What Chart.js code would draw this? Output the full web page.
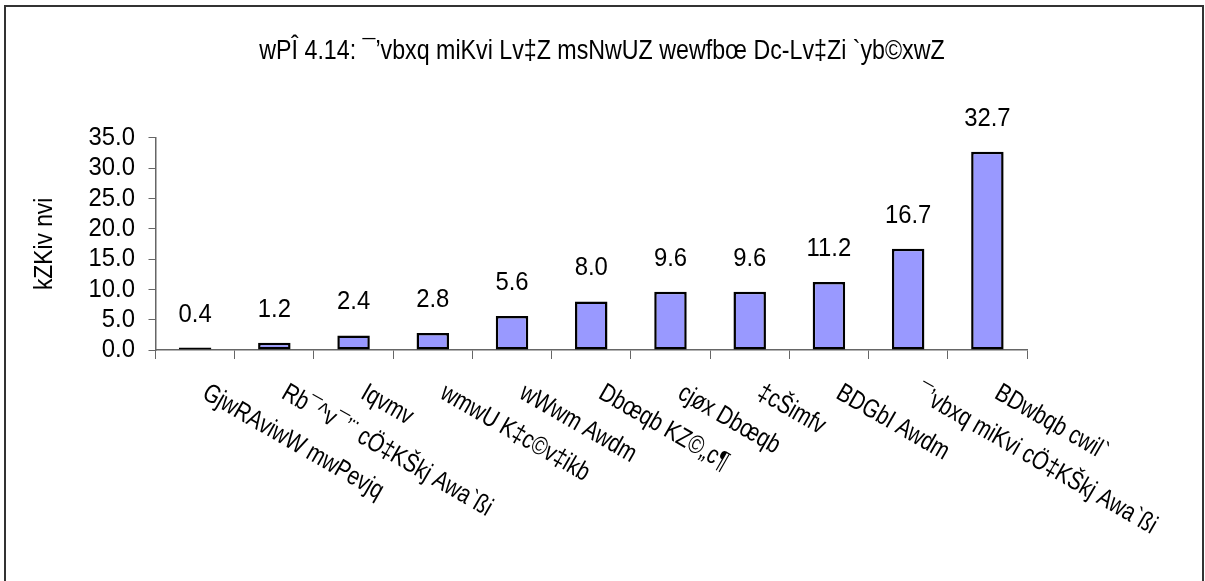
<!DOCTYPE html>
<html>
<head>
<meta charset="utf-8">
<script src="https://cdn.jsdelivr.net/npm/chart.js@4"></script>
<style>
  html, body { margin: 0; padding: 0; background: #fff; }
  #wrap { width: 1205px; height: 581px; position: relative; }
</style>
</head>
<body>
<div id="wrap"><canvas id="myChart"></canvas></div>
<script>
const chartTitle = "wPÎ 4.14: ¯’vbxq miKvi Lv‡Z msNwUZ wewfbœ Dc-Lv‡Zi `yb©xwZ";
const yTitle = "kZKiv nvi";
const categories = [
  "GjwRAviwW mwPevjq",
  "Rb¯^v¯’¨ cÖ‡KŠkj Awa`ßi",
  "Iqvmv",
  "wmwU K‡c©v‡ikb",
  "wWwm Awdm",
  "Dbœqb KZ©„c¶",
  "cjøx Dbœqb",
  "‡cŠimfv",
  "BDGbI Awdm",
  "¯’vbxq miKvi cÖ‡KŠkj Awa`ßi",
  "BDwbqb cwil`"
];
const percents = [0.4, 1.2, 2.4, 2.8, 5.6, 8.0, 9.6, 9.6, 11.2, 16.7, 32.7];
const yTicks = [0, 5, 10, 15, 20, 25, 30, 35];

// narrow look: liberation sans squeezed sideways
const FONT = "'Liberation Sans', Arial, sans-serif";
const SQUEEZE = 0.9;

function narrowText(c, txt, x, y, size, align, baseline, angle, sx) {
  c.save();
  c.font = size + 'px ' + FONT;
  c.fillStyle = '#000';
  c.textAlign = align;
  c.textBaseline = baseline;
  c.translate(x, y);
  if (angle) c.rotate(angle * Math.PI / 180);
  c.scale(sx || SQUEEZE, 1);
  c.fillText(txt, 0, 0);
  c.restore();
}

const framePlugin = {
  id: 'frame',
  afterDraw(chart) {
    const c = chart.ctx;
    c.save();
    c.lineWidth = 2;
    c.strokeStyle = '#333';
    c.strokeRect(5, 6, 1198, 600);
    c.restore();
  }
};

const textPlugin = {
  id: 'texts',
  afterDraw(chart) {
    const c = chart.ctx;
    const xs = chart.scales.x, ys = chart.scales.y;
    const area = chart.chartArea;

    // title
    narrowText(c, chartTitle, 602, 52, 27, 'center', 'middle', 0, 0.86);

    // y axis title
    narrowText(c, yTitle, 45, (area.top + area.bottom) / 2, 26.5, 'center', 'middle', -90, 0.86);

    // y tick labels
    yTicks.forEach(v => {
      narrowText(c, v.toFixed(1), 135, ys.getPixelForValue(v), 26.5, 'right', 'middle', 0);
    });

    // values over bars
    const meta = chart.getDatasetMeta(0);
    meta.data.forEach((bar, i) => {
      narrowText(c, percents[i].toFixed(1), bar.x, bar.y - 26, 26.5, 'center', 'alphabetic', 0);
    });

    // slanted category labels
    categories.forEach((lab, i) => {
      const x = xs.getPixelForValue(i);
      narrowText(c, lab, x + 16, area.bottom + 30, 26, 'left', 'top', 30, 0.8);
    });
  }
};

const ctx = document.getElementById('myChart').getContext('2d');
new Chart(ctx, {
  type: 'bar',
  data: {
    labels: categories,
    datasets: [{
      data: percents,
      backgroundColor: '#9999FF',
      borderColor: '#000',
      borderWidth: 2.5,
      borderSkipped: false,
      barPercentage: 0.41,
      categoryPercentage: 1.0
    }]
  },
  options: {
    responsive: true,
    maintainAspectRatio: false,
    animation: false,
    layout: { padding: { left: 10, right: 178, top: 137.8, bottom: 0 } },
    plugins: {
      legend: { display: false },
      tooltip: { enabled: false },
      title: { display: false }
    },
    scales: {
      x: {
        grid: { display: true, drawOnChartArea: false, drawTicks: true, tickLength: 9, color: '#666', offset: true },
        border: { color: '#666', width: 1.5 },
        ticks: { display: false },
        afterFit: s => { s.height = 231; }
      },
      y: {
        min: 0,
        max: 35,
        afterBuildTicks: s => { s.ticks = yTicks.map(v => ({ value: v })); },
        grid: { display: true, drawOnChartArea: false, drawTicks: true, tickLength: 7, color: '#666' },
        border: { color: '#666', width: 1.5 },
        ticks: { display: false },
        afterFit: s => { s.width = 145.5; }
      }
    }
  },
  plugins: [framePlugin, textPlugin]
});
</script>
</body>
</html>
